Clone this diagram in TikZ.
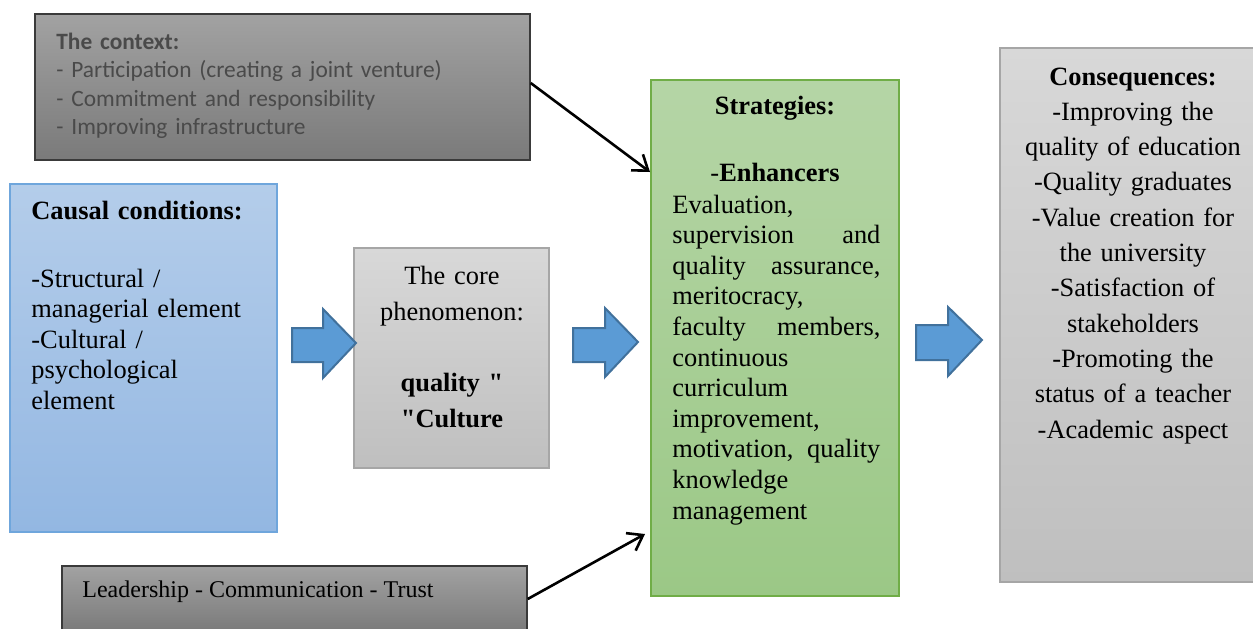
\documentclass[tikz,border=0pt]{standalone}
\usepackage{fontspec}
\setmainfont{Liberation Serif}
\newfontfamily\ctxfont{Carlito}
\usetikzlibrary{arrows.meta,fit}

\definecolor{darktop}{HTML}{A2A2A2}
\definecolor{darkbot}{HTML}{7A7A7A}
\definecolor{darkline}{HTML}{3A3A3A}
\definecolor{ctxtext}{HTML}{4A4A4A}
\definecolor{bluetop}{HTML}{B4CDEA}
\definecolor{bluebot}{HTML}{93B7E2}
\definecolor{blueline}{HTML}{6FA6DC}
\definecolor{greytop}{HTML}{D8D8D8}
\definecolor{greybot}{HTML}{BFBFBF}
\definecolor{greyline}{HTML}{A6A6A6}
\definecolor{greentop}{HTML}{B5D5A6}
\definecolor{greenbot}{HTML}{9BC886}
\definecolor{greenline}{HTML}{70AD47}
\definecolor{arrowfill}{HTML}{5B9BD5}
\definecolor{arrowline}{HTML}{41719C}

\begin{document}
\begin{tikzpicture}[x=0.5pt,y=-0.5pt,
    box/.style = {inner sep=0pt, line width=0.7pt},
    darkbox/.style = {box, draw=darkline, top color=darktop, bottom color=darkbot},
    bluebox/.style = {box, draw=blueline, top color=bluetop, bottom color=bluebot},
    greybox/.style = {box, draw=greyline, top color=greytop, bottom color=greybot},
    greenbox/.style = {box, draw=greenline, top color=greentop, bottom color=greenbot},
    txt/.style = {inner sep=0pt, font=\fontsize{13.2}{15.3}\selectfont},
    arrow/.style = {line width=1.3pt, -{Straight Barb[length=7pt,width=10pt,line width=1.3pt]}},
    blockarr/.style = {draw=arrowline, fill=arrowfill, line width=1pt, line join=miter}]
    \useasboundingbox (0,0) rectangle (1253,628);
    \clip (0,0) rectangle (1253,628);

    % boxes
    \node[darkbox, fit={(35,14) (530,160)}] (context) {};
    \node[bluebox, fit={(10,184) (277,532)}] (causal) {};
    \node[greybox, fit={(354,248) (549,468)}] (core) {};
    \node[greenbox, fit={(651,80) (899,596)}] (strategies) {};
    \node[greybox, fit={(1000,48) (1266,582)}] (conseq) {};
    \node[darkbox, fit={(62,566) (527,632)}] (lead) {};

    % texts
    \node[anchor=base west, align=left, text width=235pt, inner sep=0pt, text=ctxtext,
          font=\ctxfont\fontsize{11.7}{14.3}\selectfont] (contexttext) at (56,49)
        {\textbf{The context:}\\
         - Participation (creating a joint venture)\\
         - Commitment and responsibility\\
         - Improving infrastructure};
    \node[txt, anchor=base west, align=left, text width=120pt] (causaltext) at (31,219)
        {\textbf{Causal conditions:}\\[18.7pt]
         -Structural /\\
         managerial element\\
         -Cultural /\\
         psychological\\
         element};
    \node[txt, anchor=base, align=center, text width=95pt,
          font=\fontsize{13.2}{18}\selectfont] (coretext) at (452,284)
        {The core\\
         phenomenon:\\[17.5pt]
         \textbf{quality \textquotedbl}\\
         \textbf{\textquotedbl Culture}};
    \node[txt, anchor=base] (strattitle) at (775,114) {\textbf{Strategies:}};
    \node[txt, anchor=base] (enhtext) at (775,181) {-\textbf{Enhancers}};
    \node[txt, anchor=base west, align=left, text width=104pt] (stratbody) at (672,213)
        {Evaluation,\\
         supervision\hfill and\\
         quality\hfill assurance,\\
         meritocracy,\\
         faculty\hfill members,\\
         continuous\\
         curriculum\\
         improvement,\\
         motivation,\hfill quality\\
         knowledge\\
         management};
    \node[txt, anchor=base, align=center, text width=120pt,
          font=\fontsize{13.2}{17.65}\selectfont] (conseqtext) at (1133,85)
        {\textbf{Consequences:}\\
         -Improving the\\
         quality of education\\
         -Quality graduates\\
         -Value creation for\\
         the university\\
         -Satisfaction of\\
         stakeholders\\
         -Promoting the\\
         status of a teacher\\
         -Academic aspect};
    \node[txt, anchor=base west, font=\fontsize{12}{14}\selectfont] (leadtext) at (82,597)
        {Leadership - Communication - Trust};

    % block arrows
    \draw[blockarr] (292,328) -- (323,328) -- (323,309) -- (356,343)
        -- (323,378) -- (323,362) -- (292,362) -- cycle;
    \draw[blockarr] (573,328) -- (605,328) -- (605,308) -- (638,342)
        -- (605,377) -- (605,362) -- (573,362) -- cycle;
    \draw[blockarr] (916,325) -- (948,325) -- (948,307) -- (982,340)
        -- (948,376) -- (948,360) -- (916,360) -- cycle;

    % line arrows
    \coordinate (ctxin) at (650,172);
    \coordinate (leadin) at (645,534);
    \draw[arrow] ([yshift=2pt]context.east) -- (ctxin);
    \draw[arrow] (lead.east) -- (leadin);
\end{tikzpicture}
\end{document}
